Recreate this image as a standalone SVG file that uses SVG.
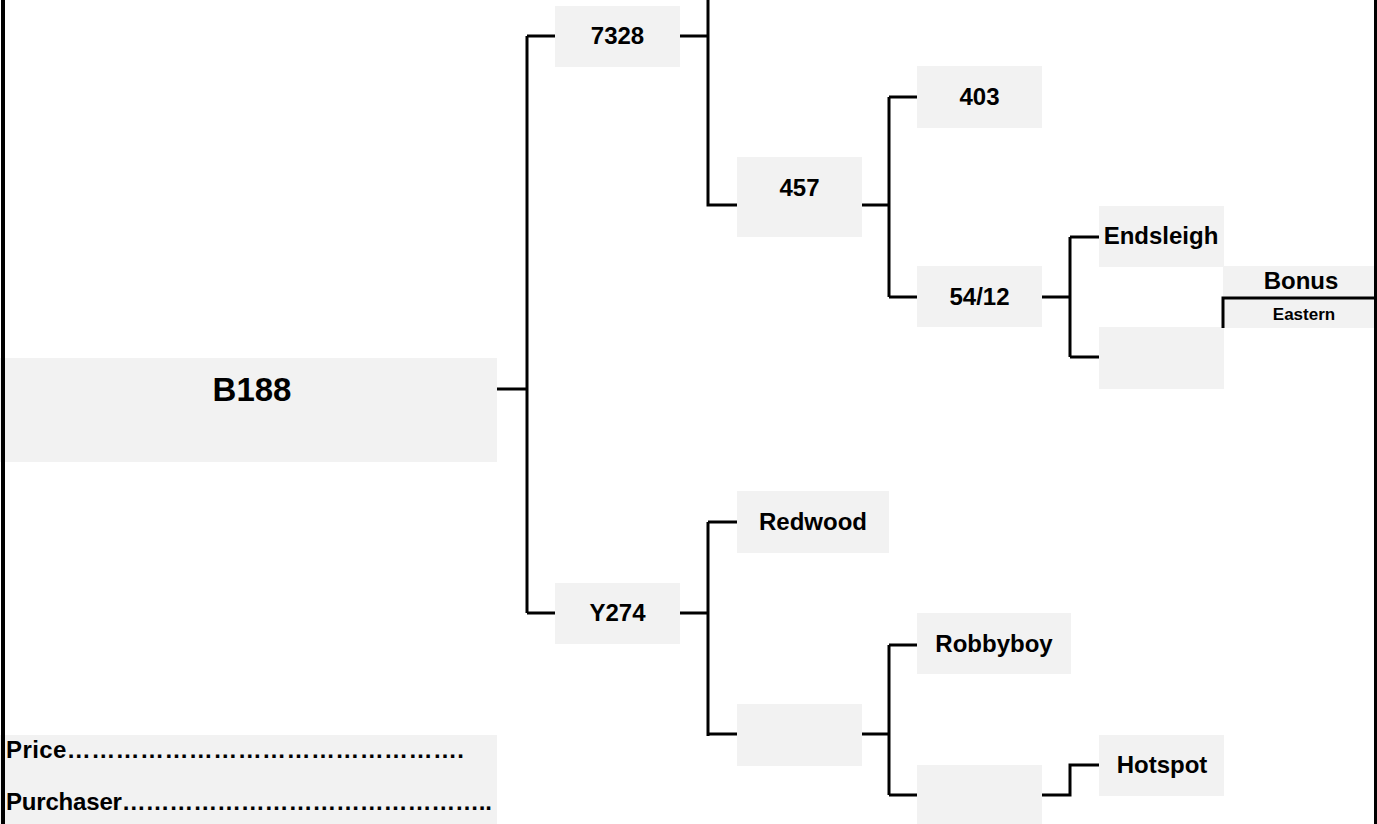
<svg xmlns="http://www.w3.org/2000/svg" width="1377" height="824" viewBox="0 0 1377 824">
<style>
.box{fill:#f2f2f2}
.t{font-family:"Liberation Sans",Arial,sans-serif;font-weight:bold;font-size:24px;fill:#000;text-anchor:middle}
.ts{font-size:17px}
.tb{font-size:33px}
.tl{text-anchor:start}
.c{fill:none;stroke:#000;stroke-width:3}
</style>
<rect width="1377" height="824" fill="#fff"/>
<g id="n-b188"><rect class="box" x="0" y="358" width="497" height="104"/><text class="t tb" x="252" y="401">B188</text></g>
<g id="n-7328"><rect class="box" x="555" y="6" width="125" height="61"/><text class="t" x="617.5" y="44">7328</text></g>
<g id="n-457"><rect class="box" x="737" y="157" width="125" height="80"/><text class="t" x="799.5" y="196">457</text></g>
<g id="n-403"><rect class="box" x="917" y="66" width="125" height="62"/><text class="t" x="979.5" y="105">403</text></g>
<g id="n-5412"><rect class="box" x="917" y="266" width="125" height="61"/><text class="t" x="979.5" y="305">54/12</text></g>
<g id="n-endsleigh"><rect class="box" x="1099" y="206" width="125" height="61"/><text class="t" x="1161" y="244">Endsleigh</text></g>
<g id="n-empty1"><rect class="box" x="1099" y="327" width="125" height="62"/></g>
<g id="n-bonus"><rect class="box" x="1223" y="266" width="154" height="62"/><text class="t" x="1301" y="289">Bonus</text><text class="t ts" x="1304" y="320">Eastern</text></g>
<g id="n-y274"><rect class="box" x="555" y="583" width="125" height="61"/><text class="t" x="617.5" y="621">Y274</text></g>
<g id="n-redwood"><rect class="box" x="737" y="491" width="152" height="62"/><text class="t" x="813" y="530">Redwood</text></g>
<g id="n-empty2"><rect class="box" x="737" y="704" width="125" height="62"/></g>
<g id="n-robbyboy"><rect class="box" x="917" y="613" width="154" height="61"/><text class="t" x="994" y="652">Robbyboy</text></g>
<g id="n-empty3"><rect class="box" x="917" y="765" width="125" height="59"/></g>
<g id="n-hotspot"><rect class="box" x="1099" y="735" width="125" height="61"/><text class="t" x="1162" y="773">Hotspot</text></g>
<g id="n-price"><rect class="box" x="0" y="735" width="497" height="89"/><text class="t tl" x="6" y="758" textLength="458" lengthAdjust="spacing">Price&#8230;&#8230;&#8230;&#8230;&#8230;&#8230;&#8230;&#8230;&#8230;&#8230;&#8230;&#8230;&#8230;&#8230;&#8230;&#8230;.</text><text class="t tl" x="6" y="810" textLength="486" lengthAdjust="spacing">Purchaser&#8230;&#8230;&#8230;&#8230;&#8230;&#8230;&#8230;&#8230;&#8230;&#8230;&#8230;&#8230;&#8230;&#8230;&#8230;..</text></g>
<g id="connectors">
<path class="c" d="M497 389H527M527 36V613M527 36H555M527 613H555"/>
<path class="c" d="M680 36H708M708 0V205H737"/>
<path class="c" d="M862 205H889M889 97V297M889 97H917M889 297H917"/>
<path class="c" d="M1042 297H1070M1070 237V357M1070 237H1099M1070 357H1099"/>
<path class="c" d="M1223 328V298H1374"/>
<path class="c" d="M680 613H708M708 522V736M708 522H737M708 734H737"/>
<path class="c" d="M862 734H889M889 645V795M889 645H917M889 795H917"/>
<path class="c" d="M1042 795H1070V765H1099"/>
<path d="M3 0V824" stroke="#000" stroke-width="4"/>
<path d="M1375.5 0V824" stroke="#000" stroke-width="3"/>
</g>
</svg>
